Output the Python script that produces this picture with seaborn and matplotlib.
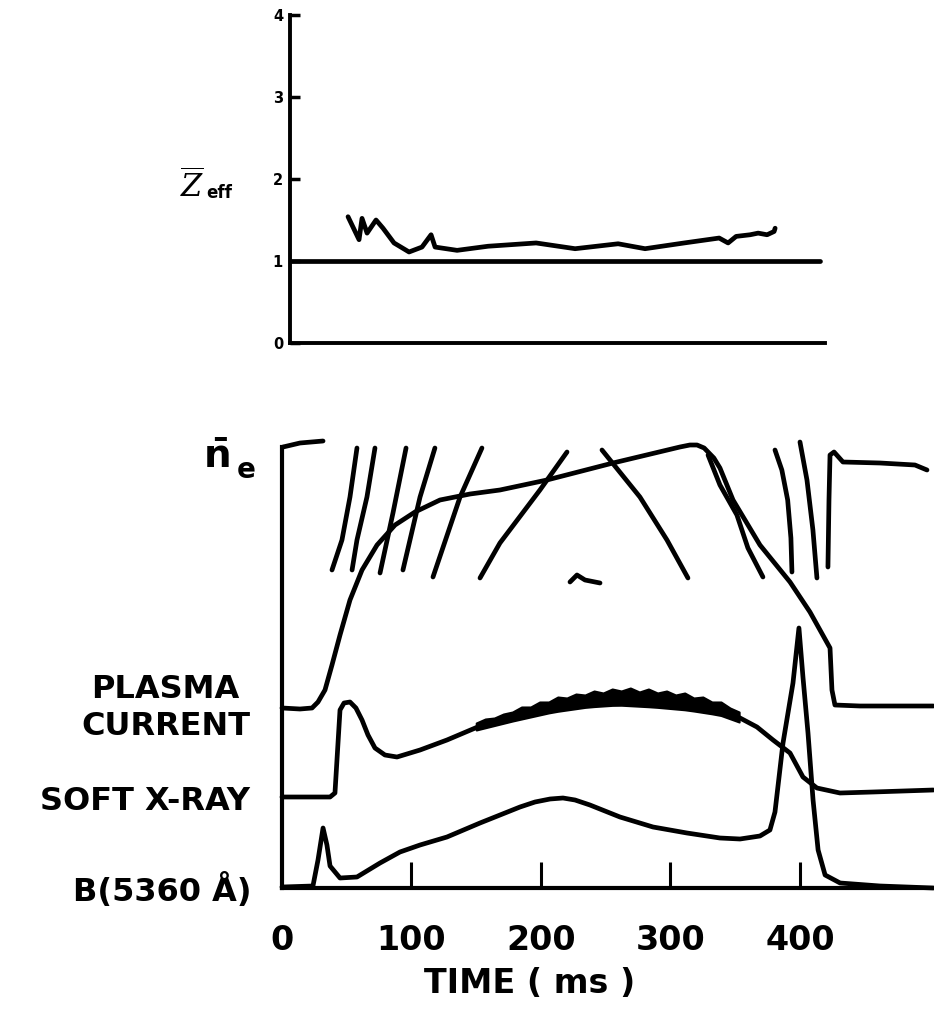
import numpy as np
import pandas as pd
import matplotlib
matplotlib.use("Agg")
import matplotlib.pyplot as plt
import seaborn as sns

# ---------------- Z_eff (upper panel), time in ms ----------------
zeff_t = [44.8, 53.3, 55.6, 59.5, 66.4, 71.8, 80.3, 91.9, 101.9, 108.9, 112.0,
          129.0, 152.9, 190.0, 220.1, 253.3, 274.1, 304.3, 331.3, 338.2, 344.4,
          355.2, 361.4, 368.3, 373.7, 374.5]
zeff_v = [1.54, 1.26, 1.52, 1.34, 1.50, 1.40, 1.22, 1.11, 1.17, 1.32, 1.17,
          1.13, 1.18, 1.22, 1.15, 1.21, 1.15, 1.22, 1.28, 1.22, 1.30,
          1.32, 1.34, 1.32, 1.36, 1.40]
zeff_ticks = [0, 1, 2, 3, 4]

# ---------------- lower panel traces (arbitrary units) ----------------
ip_t = [0, 13.9, 23.2, 27.8, 33.2, 38.6, 44.8, 52.5, 61.8, 73.4, 87.3, 102.7,
        122.0, 145.2, 168.3, 204.6, 255.6, 307.3, 315.0, 320.5, 326.0, 333.5,
        338.2, 348.3, 369.1, 392.3, 407.7, 423.2, 424.7, 427.0, 446.3, 503.0]
ip_v = [180, 179, 180, 186, 198, 223, 253, 288, 318, 343, 363, 376,
        388, 394, 398, 408, 425, 441, 443, 443, 440, 430,
        420, 388, 343, 306, 276, 240, 198, 183, 182, 182]

sxr_t = [0, 37.1, 40.9, 44.8, 47.9, 52.5, 57.1, 61.8, 66.4, 71.8, 79.5, 88.8,
         106.6, 127.4, 152.9, 178.4, 209.3, 235.5, 258.7, 286.5, 312.7, 338.2,
         353.7, 366.8, 379.2, 392.3, 402.3, 413.1, 430.9, 456.4, 503.0]
sxr_v = [91, 91, 95, 178, 185, 186, 180, 168, 153, 140, 133, 131,
         138, 148, 162, 172, 182, 187, 190, 187, 184, 178,
         170, 161, 148, 135, 111, 100, 95, 96, 98]

# sawtooth band on the soft x-ray trace: upper and lower edges
saw_t = [150, 157, 164, 171, 178, 185, 192, 199, 206, 213, 220, 227, 234, 241,
         248, 255, 262, 269, 276, 283, 290, 297, 304, 311, 318, 325, 332, 339,
         346, 353]
saw_hi = [165, 169, 170, 174, 176, 181, 181, 186, 186, 191, 190, 194, 193, 197,
          195, 199, 197, 200, 196, 199, 195, 197, 193, 195, 190, 191, 186, 186,
          180, 176]
saw_lo_t = [150, 178, 209, 236, 259, 287, 313, 338, 353]
saw_lo = [158, 167, 176, 181, 183, 181, 178, 173, 166]

b_t = [0, 23.9, 27.8, 31.7, 34.7, 37.1, 44.8, 57.9, 75.7, 91.1, 106.6, 127.4,
       152.9, 183.8, 195.4, 207.0, 217.0, 226.3, 237.8, 261.0, 286.5, 312.7,
       338.2, 353.7, 369.1, 376.8, 380.7, 386.9, 394.6, 399.2, 402.3, 406.2,
       410.1, 414.0, 419.4, 431.0, 461.8, 503.0]
b_v = [1, 2, 28, 60, 43, 22, 10, 11, 25, 36, 43, 51,
       65, 81, 86, 89, 90, 88, 83, 71, 61, 55,
       50, 49, 52, 58, 76, 145, 205, 260, 211, 155,
       88, 38, 13, 5, 2, 0]

# interferometer fringes for the line-averaged density
fringes = [
    ([0.8, 13.9, 31.7], [441, 445, 447]),
    ([57.9, 52.5, 46.3, 38.6], [440, 391, 348, 318]),
    ([71.8, 65.6, 57.9, 54.1], [440, 391, 348, 318]),
    ([95.8, 85.7, 75.7], [440, 375, 315]),
    ([118.1, 106.6, 93.4], [440, 391, 318]),
    ([154.4, 137.5, 116.6], [440, 391, 311]),
    ([220.1, 199.2, 168.3, 152.9], [436, 398, 345, 310]),
    ([247.1, 276.4, 297.3, 313.5], [438, 391, 348, 310]),
    ([222.4, 227.8, 234.0, 245.6], [306, 313, 308, 305]),
    ([329.0, 338.2, 351.3, 359.8, 371.4], [433, 403, 373, 340, 311]),
    ([380.7, 386.0, 390.5, 393.0, 393.8], [438, 418, 388, 350, 316]),
    ([400.0, 405.4, 410.0, 413.1], [446, 408, 358, 310]),
    ([421.6, 422.4, 423.2, 426.3, 433.2, 461.8, 488.8, 498.1],
     [321, 388, 433, 436, 426, 425, 423, 418]),
]

time_ticks = [0, 100, 200, 300, 400]
trace_labels = ["PLASMA\nCURRENT", "SOFT X-RAY", "B(5360 Å)"]

sns.set_theme(style="white")
plt.rcParams["font.family"] = ["DejaVu Sans"]
plt.rcParams["mathtext.fontset"] = "dejavuserif"

fig = plt.figure(figsize=(9.34, 10.14), dpi=100)
W, H = 934, 1014

LW = 3.4
line_kw = dict(color="black", linewidth=LW, sort=False, estimator=None,
               solid_capstyle="round", solid_joinstyle="round", clip_on=False)

# ---------------- upper panel ----------------
ax1 = fig.add_axes([290 / W, (H - 343) / H, 535 / W, (343 - 15) / H])
ax1.set_xlim(0, 413)
ax1.set_ylim(0, 4)
sns.lineplot(x=zeff_t, y=zeff_v, ax=ax1, **line_kw)
ax1.axhline(1, xmin=0, xmax=0.99, color="black", linewidth=LW,
            solid_capstyle="round")
for s in ["top", "right"]:
    ax1.spines[s].set_visible(False)
for s in ["left", "bottom"]:
    ax1.spines[s].set_linewidth(2.8)
    ax1.spines[s].set_color("black")
ax1.set_yticks(zeff_ticks)
ax1.set_yticklabels([str(v) for v in zeff_ticks], fontsize=10.5,
                    fontweight="bold")
ax1.set_xticks([])
ax1.tick_params(axis="y", direction="in", length=7, width=2.5, pad=5,
                colors="black", left=True)
ax1.set_xlabel("")
ax1.set_ylabel("")
fig.text(192 / W, 1 - 186 / H, r"$\overline{Z}$", fontsize=22,
         ha="center", va="center", color="black")
fig.text(206 / W, 1 - 193 / H, "eff", fontsize=12, fontweight="bold",
         ha="left", va="center", color="black")

# ---------------- lower panel ----------------
ax2 = fig.add_axes([282 / W, (H - 888) / H, 652 / W, 450 / H])
ax2.set_xlim(0, 503.5)
ax2.set_ylim(0, 450)

sns.lineplot(x=ip_t, y=ip_v, ax=ax2, **line_kw)
sns.lineplot(x=sxr_t, y=sxr_v, ax=ax2, **line_kw)
ax2.fill_between(saw_t, np.interp(saw_t, saw_lo_t, saw_lo), saw_hi,
                 color="black", linewidth=1.5, joinstyle="round")
sns.lineplot(x=b_t, y=b_v, ax=ax2, **line_kw)
for ft, fv in fringes:
    sns.lineplot(x=ft, y=fv, ax=ax2, **line_kw)

for s in ["top", "right"]:
    ax2.spines[s].set_visible(False)
for s in ["left", "bottom"]:
    ax2.spines[s].set_linewidth(3.0)
    ax2.spines[s].set_color("black")
ax2.spines["left"].set_bounds(0, 441)
ax2.set_yticks([])
ax2.set_xticks(time_ticks)
ax2.set_xticklabels([str(v) for v in time_ticks], fontsize=24,
                    fontweight="bold")
ax2.tick_params(axis="x", direction="in", length=19, width=2.2, pad=26,
                colors="black", bottom=True)
ax2.xaxis.get_major_ticks()[0].tick1line.set_visible(False)
ax2.set_ylabel("")
ax2.set_xlabel("TIME ( ms )", fontsize=24, fontweight="bold", color="black")
ax2.xaxis.set_label_coords(0.38, -0.175)

fig.text(218 / W, 1 - 456 / H, "n\u0304", fontsize=28, fontweight="bold",
         ha="center", va="center", color="black")
fig.text(237 / W, 1 - 470 / H, "e", fontsize=20, fontweight="bold",
         ha="left", va="center", color="black")
fig.text(250 / W, 1 - 708 / H, trace_labels[0], fontsize=23, fontweight="bold",
         ha="right", va="center", multialignment="center", color="black",
         linespacing=1.25)
fig.text(250 / W, 1 - 802 / H, trace_labels[1], fontsize=23, fontweight="bold",
         ha="right", va="center", color="black")
fig.text(252 / W, 1 - 890 / H, trace_labels[2], fontsize=23, fontweight="bold",
         ha="right", va="center", color="black")

fig.savefig("out.png", dpi=100, facecolor="white")
